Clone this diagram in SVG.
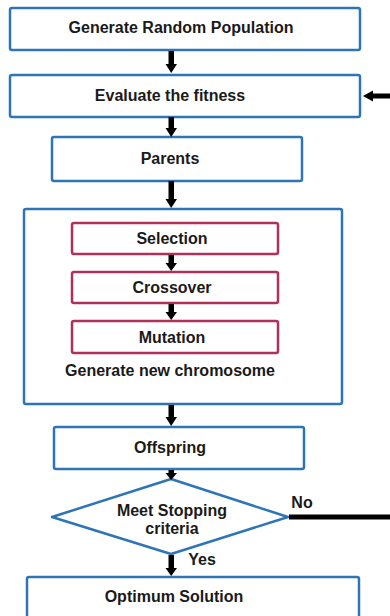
<svg xmlns="http://www.w3.org/2000/svg" width="390" height="616" viewBox="0 0 390 616">
<style>
.b{fill:#fff;stroke:#2e75b6;stroke-width:2.5}
.r{fill:#fff;stroke:#b0305a;stroke-width:2.5}
.t{font-family:"Liberation Sans",Arial,sans-serif;font-weight:bold;font-size:16px;fill:#1a1a1a;text-anchor:middle}
.a{fill:#000}
</style>
<rect width="390" height="616" fill="#fff"/>
<g id="n1"><rect class="b" x="10" y="8" width="350" height="42" rx="2"/><text class="t" x="181" y="33">Generate Random Population</text></g>
<g id="n2"><rect class="b" x="10" y="75" width="350" height="42" rx="2"/><text class="t" x="170" y="101">Evaluate the fitness</text></g>
<g id="n3"><rect class="b" x="52" y="137" width="250" height="44" rx="2"/><text class="t" x="170" y="164">Parents</text></g>
<g id="n4"><rect class="b" x="24" y="209" width="318" height="195" rx="2"/><text class="t" x="170" y="376">Generate new chromosome</text></g>
<g id="n5"><rect class="r" x="72" y="223" width="206" height="31" rx="2"/><text class="t" x="172" y="244">Selection</text></g>
<g id="n6"><rect class="r" x="72" y="272" width="206" height="31" rx="2"/><text class="t" x="172" y="293">Crossover</text></g>
<g id="n7"><rect class="r" x="72" y="321" width="206" height="32" rx="2"/><text class="t" x="172" y="343">Mutation</text></g>
<g id="n8"><rect class="b" x="54" y="427" width="250" height="42" rx="2"/><text class="t" x="170" y="453">Offspring</text></g>
<g id="n9"><polygon class="b" points="171,479 288,517 171,554 52,517" stroke-linejoin="round"/><text class="t" x="172" y="516">Meet Stopping</text><text class="t" x="172" y="534">criteria</text></g>
<g id="n10"><rect class="b" x="27" y="577" width="332" height="50" rx="2"/><text class="t" x="174" y="602">Optimum Solution</text></g>
<g id="connectors">
<polygon class="a" points="168.5,51 174,51 174,64 177,64 171.2,73 165.5,64 168.5,64"/>
<polygon class="a" points="168.5,117 174,117 174,128 177,128 171.2,137 165.5,128 168.5,128"/>
<polygon class="a" points="168.5,181 174,181 174,199 177,199 171.2,208 165.5,199 168.5,199"/>
<polygon class="a" points="168.5,255 174,255 174,263 177,263 171.2,271 165.5,263 168.5,263"/>
<polygon class="a" points="168.5,304 174,304 174,312 177,312 171.2,320 165.5,312 168.5,312"/>
<polygon class="a" points="168.5,405 174,405 174,417 177,417 171.2,426 165.5,417 168.5,417"/>
<polygon class="a" points="168.5,470 174,470 174,473 177,473 171.2,480 165.5,473 168.5,473"/>
<polygon class="a" points="168.5,555 174,555 174,568 177,568 171.2,576 165.5,568 168.5,568"/>
<polygon class="a" points="390,93.5 373,93.5 373,90.5 363,96 373,101.5 373,98.5 390,98.5"/>
<rect class="a" x="289" y="514.5" width="101" height="5"/>
<text class="t" x="302" y="508">No</text>
<text class="t" x="202" y="565">Yes</text>
</g>
</svg>
